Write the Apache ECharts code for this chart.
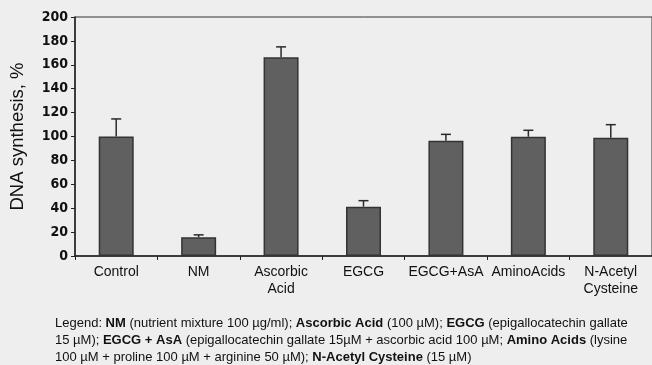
<!DOCTYPE html>
<html><head><meta charset="utf-8">
<script src="https://cdn.jsdelivr.net/npm/echarts@6/dist/echarts.min.js"></script>
<style>html,body{margin:0;padding:0;background:#eeeeee}#c{width:652px;height:365px}</style>
</head><body><div id="c"></div>
<script>
var categories = ['Control', 'NM', 'Ascorbic\nAcid', 'EGCG', 'EGCG+AsA', 'AminoAcids', 'N-Acetyl\nCysteine'];
var values = [100, 15.7, 166.3, 41.3, 96.5, 99.8, 99];
var errors = [14.7, 2, 8.7, 5, 5.3, 5.4, 10.9];
var yTicks = [0, 20, 40, 60, 80, 100, 120, 140, 160, 180, 200];

var chart = echarts.init(document.getElementById('c'));
var errData = values.map(function (v, i) { return [i, v, v + errors[i]]; });
chart.setOption({
  backgroundColor: '#eeeeee',
  animation: false,
  grid: { left: 72, width: 589, top: 17, bottom: 109, show: true, borderColor: '#333', borderWidth: 1, backgroundColor: 'transparent' },
  xAxis: {
    type: 'category', data: categories,
    axisLine: { lineStyle: { color: '#222', width: 1.5 } },
    axisTick: { show: true, length: 4, lineStyle: { color: '#222' } },
    axisLabel: { color: '#111', fontFamily: 'Liberation Sans, Arial', fontSize: 14, lineHeight: 17, margin: 8, interval: 0 }
  },
  yAxis: {
    type: 'value', min: yTicks[0], max: yTicks[yTicks.length - 1], interval: 20,
    name: 'DNA synthesis, %', nameLocation: 'middle', nameGap: 48,
    nameTextStyle: { color: '#111', fontFamily: 'Liberation Sans, Arial', fontSize: 18.5 },
    axisLine: { show: true, lineStyle: { color: '#222', width: 1.5 } },
    axisTick: { show: true, length: 4, lineStyle: { color: '#222' } },
    splitLine: { show: false },
    axisLabel: { color: '#111', fontFamily: 'DejaVu Sans Condensed', fontWeight: 'bold', fontSize: 14, margin: 7 }
  },
  series: [
    { type: 'bar', data: values, barWidth: 35,
      itemStyle: { color: '#606060', borderColor: '#333', borderWidth: 1.5 } },
    { type: 'custom', data: errData, z: 1,
      renderItem: function (params, api) {
        var x = api.value(0);
        var b = api.coord([x, api.value(1)]);
        var t = api.coord([x, api.value(2)]);
        var st = { stroke: '#2a2a2a', lineWidth: 1.5 };
        return { type: 'group', children: [
          { type: 'line', shape: { x1: b[0], y1: b[1], x2: t[0], y2: t[1] }, style: st },
          { type: 'line', shape: { x1: t[0] - 5, y1: t[1], x2: t[0] + 5, y2: t[1] }, style: st }
        ] };
      } }
  ],
  graphic: [{
    type: 'text', left: 55, top: 315,
    style: {
      text: 'Legend: {b|NM} (nutrient mixture 100 µg/ml); {b|Ascorbic Acid} (100 µM); {b|EGCG} (epigallocatechin gallate\n15 µM); {b|EGCG + AsA} (epigallocatechin gallate 15µM + ascorbic acid 100 µM; {b|Amino Acids} (lysine\n100 µM + proline 100 µM + arginine 50 µM); {b|N-Acetyl Cysteine} (15 µM)',
      fontFamily: 'Liberation Sans, Arial', fontSize: 13, lineHeight: 17, fill: '#111',
      rich: { b: { fontWeight: 'bold', fontFamily: 'Liberation Sans, Arial', fontSize: 13, fill: '#111' } }
    }
  }]
});
</script></body></html>
